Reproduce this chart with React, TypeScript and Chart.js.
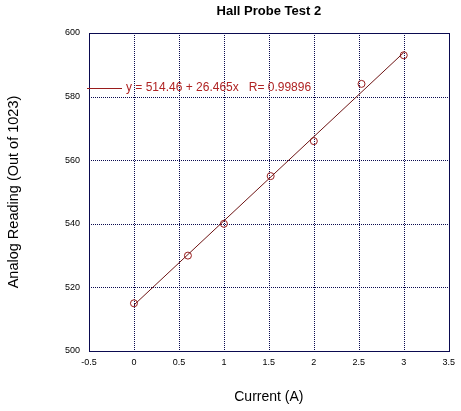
import React, { useEffect, useRef } from "react";
import { Chart, registerables } from "chart.js";

Chart.register(...registerables);

const currentA = [0, 0.6, 1, 1.52, 2, 2.53, 3];
const analogReading = [515, 530, 540, 555, 566, 584, 593];
const fitX = [0, 3];
const fitY = [514.46, 593.86];
const fitLabel = "y = 514.46 + 26.465x   R= 0.99896";
const xTickRange = [-0.5, 3.5];
const yTickRange = [500, 600];

const FONT = "'Liberation Sans', Arial, sans-serif";
const NAVY = "#0a0a50";

const legendPlugin = {
  id: "fitLegend",
  afterDatasetsDraw(chart: any) {
    const ctx = chart.ctx;
    const area = chart.chartArea;
    const y = area.top + 55;
    ctx.save();
    ctx.strokeStyle = "#9a1c1c";
    ctx.lineWidth = 1;
    ctx.beginPath();
    ctx.moveTo(area.left - 2, y + 0.5);
    ctx.lineTo(area.left + 33, y + 0.5);
    ctx.stroke();
    ctx.fillStyle = "#b02424";
    ctx.font = "12px " + FONT;
    ctx.textBaseline = "middle";
    ctx.textAlign = "left";
    ctx.fillText(fitLabel, area.left + 37, y);
    ctx.restore();
  },
};

const gridPlugin = {
  id: "dotGrid",
  beforeDatasetsDraw(chart: any) {
    const { ctx, chartArea: a, scales } = chart;
    const L = Math.round(a.left), R = Math.round(a.right);
    const T = Math.round(a.top), B = Math.round(a.bottom);
    ctx.save();
    ctx.strokeStyle = NAVY;
    ctx.lineWidth = 1;
    ctx.setLineDash([1, 1]);
    for (const t of scales.x.ticks) {
      const px = Math.round(scales.x.getPixelForValue(t.value)) + 0.5;
      if (px <= L + 1 || px >= R - 1) continue;
      ctx.beginPath();
      ctx.moveTo(px, T);
      ctx.lineTo(px, B);
      ctx.stroke();
    }
    for (const t of scales.y.ticks) {
      const py = Math.round(scales.y.getPixelForValue(t.value)) + 0.5;
      if (py <= T + 1 || py >= B - 1) continue;
      ctx.beginPath();
      ctx.moveTo(L, py);
      ctx.lineTo(R, py);
      ctx.stroke();
    }
    ctx.setLineDash([]);
    ctx.strokeRect(L + 0.5, T + 0.5, R - L, B - T);
    ctx.restore();
  },
};

export default function App() {
  const ref = useRef<HTMLCanvasElement>(null);
  useEffect(() => {
    if (!ref.current) return;
    const chart = new Chart(ref.current, {
      type: "scatter",
      data: {
        datasets: [
          {
            label: "fit",
            data: fitX.map((x, i) => ({ x, y: fitY[i] })),
            showLine: true,
            borderColor: "#6e1414",
            borderWidth: 1,
            pointRadius: 0,
            fill: false,
          },
          {
            label: "data",
            data: currentA.map((x, i) => ({ x, y: analogReading[i] })),
            showLine: false,
            pointStyle: "circle",
            pointRadius: 3.5,
            pointBorderWidth: 1,
            pointBackgroundColor: "rgba(0,0,0,0)",
            pointBorderColor: "#9a1c1c",
          },
        ],
      },
      options: {
        responsive: false,
        animation: false,
        devicePixelRatio: 1,
        layout: { padding: { left: 0, right: 12, top: 0, bottom: 0 } },
        plugins: {
          legend: { display: false },
          tooltip: { enabled: false },
          title: {
            display: true,
            fullSize: false,
            text: "Hall Probe Test 2",
            color: "#000",
            font: { family: FONT, size: 13, weight: "bold" },
            padding: { top: 4, bottom: 13.4 },
          },
        },
        scales: {
          x: {
            type: "linear",
            min: xTickRange[0],
            max: xTickRange[1],
            ticks: {
              stepSize: 0.5,
              color: "#000",
              font: { family: FONT, size: 9 },
              padding: 6,
              maxRotation: 0,
              callback: (v: any) => String(Number(v)),
            },
            grid: { display: false, drawTicks: false },
            border: { display: false },
            title: {
              display: true,
              text: "Current (A)",
              color: "#000",
              font: { family: FONT, size: 14 },
              padding: { top: 0, bottom: 5.6 },
            },
            afterFit: (s: any) => {
              s.height = 60;
            },
          },
          y: {
            type: "linear",
            min: yTickRange[0],
            max: yTickRange[1],
            ticks: {
              stepSize: 20,
              color: "#000",
              font: { family: FONT, size: 9 },
              padding: 9,
            },
            grid: { display: false, drawTicks: false },
            border: { display: false },
            title: {
              display: true,
              text: "Analog Reading (Out of 1023)",
              color: "#000",
              font: { family: FONT, size: 14.5 },
              padding: { top: 5.3, bottom: 0 },
            },
            afterFit: (s: any) => {
              s.width = 89;
            },
          },
        },
      },
      plugins: [gridPlugin, legendPlugin],
    } as any);
    return () => chart.destroy();
  }, []);

  return (
    <div style={{ position: "absolute", left: 0, top: 0, width: 461, height: 411, background: "#fff" }}>
      <canvas ref={ref} width={461} height={411} />
    </div>
  );
}
